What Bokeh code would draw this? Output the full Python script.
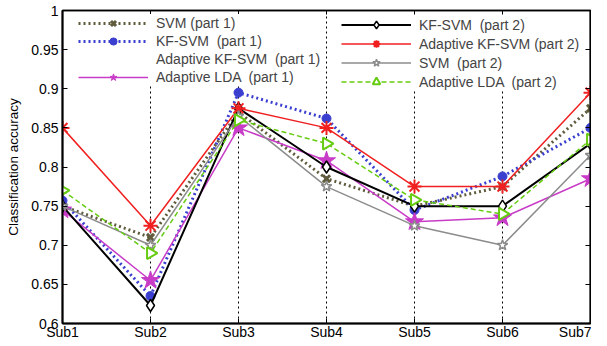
import math
from bokeh.plotting import figure
from bokeh.models import (Legend, LegendItem, LinearAxis, FixedTicker,
                          NumeralTickFormatter, Range1d)
from bokeh.embed import file_html
from bokeh.resources import INLINE

subjects = ["Sub1", "Sub2", "Sub3", "Sub4", "Sub5", "Sub6", "Sub7"]
svm_p1 = [0.750, 0.710, 0.870, 0.785, 0.750, 0.775, 0.875]
kfsvm_p1 = [0.757, 0.635, 0.895, 0.862, 0.745, 0.788, 0.850]
alda_p1 = [0.745, 0.655, 0.850, 0.808, 0.730, 0.735, 0.785]
kfsvm_p2 = [0.750, 0.623, 0.875, 0.800, 0.750, 0.750, 0.830]
akfsvm_p2 = [0.850, 0.725, 0.875, 0.850, 0.775, 0.775, 0.895]
svm_p2 = [0.750, 0.700, 0.865, 0.775, 0.725, 0.700, 0.815]
alda_p2 = [0.770, 0.690, 0.860, 0.830, 0.758, 0.740, 0.835]
y_ticks = [0.6, 0.65, 0.7, 0.75, 0.8, 0.85, 0.9, 0.95, 1.0]

x = list(range(1, len(subjects) + 1))
FONT = "Liberation Sans"

p = figure(width=591, height=342, output_backend="svg", toolbar_location=None,
           x_range=Range1d(1, 7), y_range=Range1d(0.6, 1.0),
           min_border_left=62, min_border_right=1, min_border_top=10,
           min_border_bottom=18)
p.background_fill_color = "white"
p.border_fill_color = "white"
p.outline_line_color = "black"
p.outline_line_width = 1.5

# axes
p.xaxis.ticker = FixedTicker(ticks=x)
p.xaxis.major_label_overrides = {i: s for i, s in zip(x, subjects)}
p.yaxis.ticker = FixedTicker(ticks=y_ticks)
p.yaxis.formatter = NumeralTickFormatter(format="0.[00]")
for ax in (p.xaxis[0], p.yaxis[0]):
    ax.axis_line_width = 2
    ax.axis_line_color = "black"
    ax.major_tick_in = 5
    ax.major_tick_out = 0
    ax.minor_tick_line_color = None
    ax.major_tick_line_color = "black"
    ax.major_label_text_font = FONT
    ax.major_label_text_font_size = "14px"
    ax.major_label_text_color = "black"
p.xaxis.major_label_standoff = 0
p.yaxis.major_label_standoff = 4
p.yaxis.axis_label = "Classification accuracy"
p.yaxis.axis_label_text_font = FONT
p.yaxis.axis_label_text_font_size = "13.5px"
p.yaxis.axis_label_text_font_style = "normal"
p.yaxis.axis_label_text_color = "black"
p.yaxis.axis_label_standoff = 7

right = LinearAxis(ticker=FixedTicker(ticks=y_ticks), major_label_text_font_size="0px",
                   major_label_standoff=0,
                   major_tick_in=5, major_tick_out=0, minor_tick_line_color=None,
                   axis_line_width=2, axis_line_color="black")
right.major_label_text_color = None
p.add_layout(right, "right")
top = LinearAxis(ticker=FixedTicker(ticks=x), major_label_text_font_size="0px",
                 major_label_standoff=0,
                 major_tick_in=4, major_tick_out=0, minor_tick_line_color=None,
                 axis_line_width=1.5, axis_line_color="black")
top.major_label_text_color = None
p.add_layout(top, "above")

p.ygrid.grid_line_color = None
p.xgrid.grid_line_color = "black"
p.xgrid.grid_line_dash = "2 3"
p.xgrid.grid_line_width = 1

# series
olive = "#5f5b3c"
blue = "#3b3fd0"
magenta = "#c83cc8"
red = "#f02020"
gray = "#8c8c8c"
green = "#66cc11"

r_svm1 = p.line(x, svm_p1, line_color=olive, line_width=3, line_dash="2 3")
m_svm1 = p.scatter(x, svm_p1, marker="x", size=10, line_color=olive, line_width=3)

r_kf1 = p.line(x, kfsvm_p1, line_color=blue, line_width=3, line_dash="2 3")
m_kf1 = p.scatter(x, kfsvm_p1, marker="circle", size=9, line_color=blue, fill_color=blue)

r_dummy = p.line([], [], line_alpha=0)

r_alda1 = p.line(x, alda_p1, line_color=magenta, line_width=1.5)
m_alda1 = p.scatter(x, alda_p1, marker="star", size=19, line_color=magenta, fill_color=magenta)

r_kf2 = p.line(x, kfsvm_p2, line_color="black", line_width=2)
m_kf2 = p.scatter(x, kfsvm_p2, marker="diamond", size=12, line_color="black",
                  fill_color="white", line_width=1.5)

r_akf2 = p.line(x, akfsvm_p2, line_color=red, line_width=1.5)
m_akf2 = p.scatter(x, akfsvm_p2, marker="asterisk", size=14, line_color=red, line_width=2)

r_svm2 = p.line(x, svm_p2, line_color=gray, line_width=1.5)
m_svm2 = p.scatter(x, svm_p2, marker="star", size=11, line_color=gray,
                   fill_color="white", line_width=1.5)

r_alda2 = p.line(x, alda_p2, line_color=green, line_width=1.5, line_dash="5 3")
m_alda2 = p.scatter(x, alda_p2, marker="triangle", size=12, angle=-math.pi / 2,
                    line_color=green, fill_color="white", line_width=2)

def mk_legend(items, loc, h):
    return Legend(items=items, location=loc, orientation="vertical",
                  label_text_font=FONT, label_text_font_size="14px",
                  label_height=h, glyph_height=h, glyph_width=70, spacing=0,
                  padding=3, margin=0, label_standoff=8,
                  border_line_color=None, background_fill_color="white",
                  background_fill_alpha=1.0)

leg1 = mk_legend([
    LegendItem(label="SVM (part 1)", renderers=[r_svm1, m_svm1]),
    LegendItem(label="KF-SVM  (part 1)", renderers=[r_kf1, m_kf1]),
    LegendItem(label="Adaptive KF-SVM  (part 1)", renderers=[r_dummy]),
    LegendItem(label="Adaptive LDA  (part 1)", renderers=[r_alda1, m_alda1]),
], (16, 237), 18)
leg2 = mk_legend([
    LegendItem(label="KF-SVM  (part 2)", renderers=[r_kf2, m_kf2]),
    LegendItem(label="Adaptive KF-SVM (part 2)", renderers=[r_akf2, m_akf2]),
    LegendItem(label="SVM  (part 2)", renderers=[r_svm2, m_svm2]),
    LegendItem(label="Adaptive LDA  (part 2)", renderers=[r_alda2, m_alda2]),
], (279, 232), 19)
p.add_layout(leg1, "center")
p.add_layout(leg2, "center")

open("out.html", "w").write(file_html(p, INLINE))
